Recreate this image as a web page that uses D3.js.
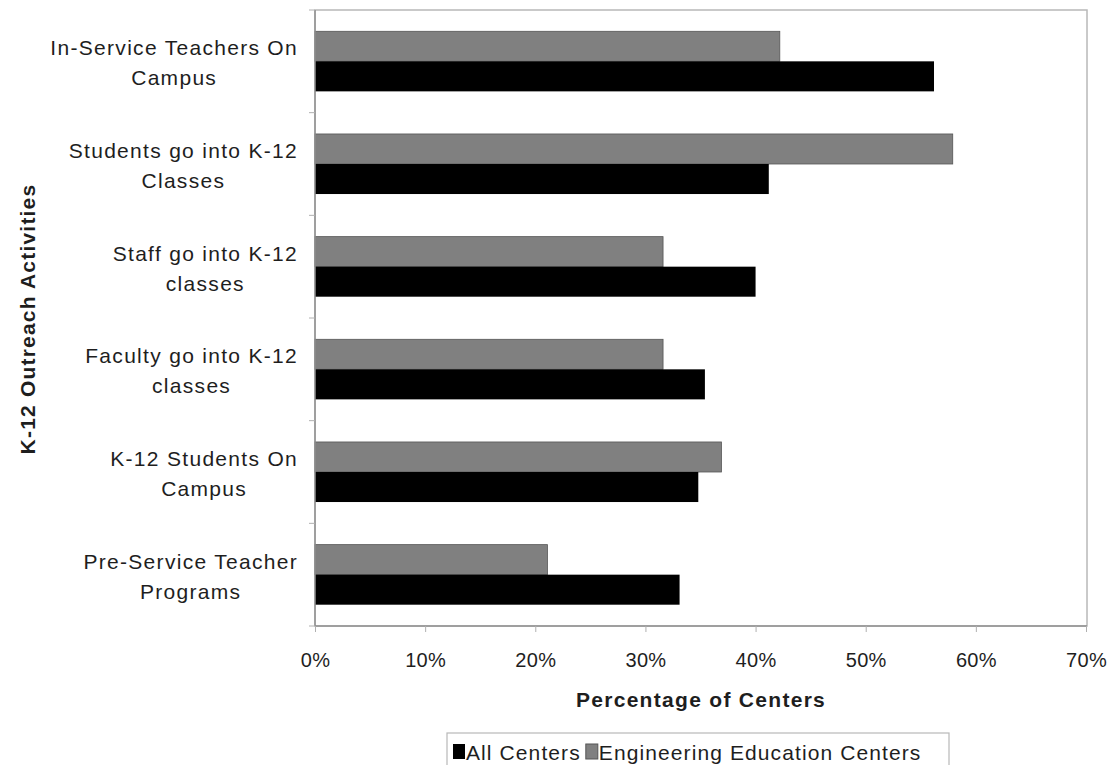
<!DOCTYPE html>
<html><head><meta charset="utf-8">
<script src="https://cdn.jsdelivr.net/npm/d3@7"></script>
<style>body{margin:0;background:#fff}svg{display:block}text{font-family:"Liberation Sans",Arial,sans-serif;fill:#1e1e1e}</style>
</head><body>
<svg id="c" width="1116" height="765"></svg>
<script>
const categories = ["In-Service Teachers On\nCampus","Students go into K-12\nClasses","Staff go into K-12\nclasses","Faculty go into K-12\nclasses","K-12 Students On\nCampus","Pre-Service Teacher\nPrograms"];
const allCenters = [0.562, 0.412, 0.400, 0.354, 0.348, 0.331];
const engCenters = [0.422, 0.579, 0.316, 0.316, 0.369, 0.211];
const seriesNames = ["All Centers","Engineering Education Centers"];
const xTicks = [0,0.1,0.2,0.3,0.4,0.5,0.6,0.7];

const svg = d3.select("#c");
const L=315, R=1087, T=10, B=626;
const x = d3.scaleLinear().domain([0,0.7]).range([L,1086]);
const y = d3.scaleBand().domain(categories).range([T,B]).paddingInner(0.415).paddingOuter(0.2075);
const sub = d3.scaleBand().domain(["eng","all"]).range([0,y.bandwidth()]);

// plot border
svg.append("rect").attr("x",L).attr("y",T).attr("width",R-L).attr("height",B-T)
  .attr("fill","none").attr("stroke","#b8b8b8").attr("stroke-width",1.5);

const g = svg.append("g");
categories.forEach((c,i)=>{
  g.append("rect").attr("x",x(0)).attr("y",y(c)+sub("eng")).attr("width",x(engCenters[i])-x(0)).attr("height",sub.bandwidth())
    .attr("fill","#808080").attr("stroke","#555").attr("stroke-width",0.8);
  g.append("rect").attr("x",x(0)).attr("y",y(c)+sub("all")).attr("width",x(allCenters[i])-x(0)).attr("height",sub.bandwidth())
    .attr("fill","#000");
});

// axes lines
svg.append("line").attr("x1",L).attr("x2",L).attr("y1",T).attr("y2",B).attr("stroke","#909090").attr("stroke-width",1.5);
svg.append("line").attr("x1",L).attr("x2",R).attr("y1",B).attr("y2",B).attr("stroke","#909090").attr("stroke-width",1.5);

// x axis
const xa = d3.axisBottom(x).tickValues(xTicks).tickFormat(d3.format(".0%")).tickSize(6).tickPadding(21);
const xg = svg.append("g").attr("transform",`translate(0,${B})`).call(xa);
xg.select(".domain").remove();
xg.selectAll(".tick line").attr("stroke","#b0b0b0");
xg.selectAll(".tick text").attr("font-size",20).attr("letter-spacing",0.3).attr("font-family","Liberation Sans, Arial, sans-serif").attr("fill","#2a2a2a");

// y ticks at band boundaries
d3.range(categories.length+1).forEach(k=>{
  const yy = T + k*(B-T)/categories.length;
  svg.append("line").attr("x1",L-6).attr("x2",L).attr("y1",yy).attr("y2",yy).attr("stroke","#b0b0b0");
});

// y labels
categories.forEach(c=>{
  const lines = c.split("\n");
  const cy = y(c)+y.bandwidth()/2;
  const t = svg.append("text").attr("font-size",21).attr("letter-spacing",1.3).attr("text-anchor","middle");
  const tspans = lines.map((ln,j)=>t.append("tspan").text(ln));
  const widths = tspans.map(s=>s.node().getComputedTextLength());
  const mw = d3.max(widths);
  const cx = 298 - mw/2;
  tspans.forEach((s,j)=>s.attr("x",cx).attr("y",cy - 6 + j*30));
});

// titles
svg.append("text").attr("x",701).attr("y",707).attr("text-anchor","middle").attr("font-size",21).attr("letter-spacing",1.3).attr("font-weight","bold").text("Percentage of Centers");
svg.append("text").attr("transform","translate(35,319) rotate(-90)").attr("text-anchor","middle").attr("font-size",21).attr("letter-spacing",1.2).attr("font-weight","bold").text("K-12 Outreach Activities");

// legend
const lg = svg.append("g");
lg.append("rect").attr("x",447).attr("y",733).attr("width",502).attr("height",40).attr("fill","#fff").attr("stroke","#b8b8b8").attr("stroke-width",1.2);
let lx = 453;
[[seriesNames[0],"#000"],[seriesNames[1],"#808080"]].forEach(([n,col])=>{
  lg.append("rect").attr("x",lx).attr("y",744).attr("width",12).attr("height",15).attr("fill",col).attr("stroke",col==="#000"?"none":"#555");
  const tt = lg.append("text").attr("x",lx+13).attr("y",760).attr("font-size",21).attr("letter-spacing",1.1).text(n);
  lx += 13 + tt.node().getComputedTextLength() + 5;
});
</script>
</body></html>
